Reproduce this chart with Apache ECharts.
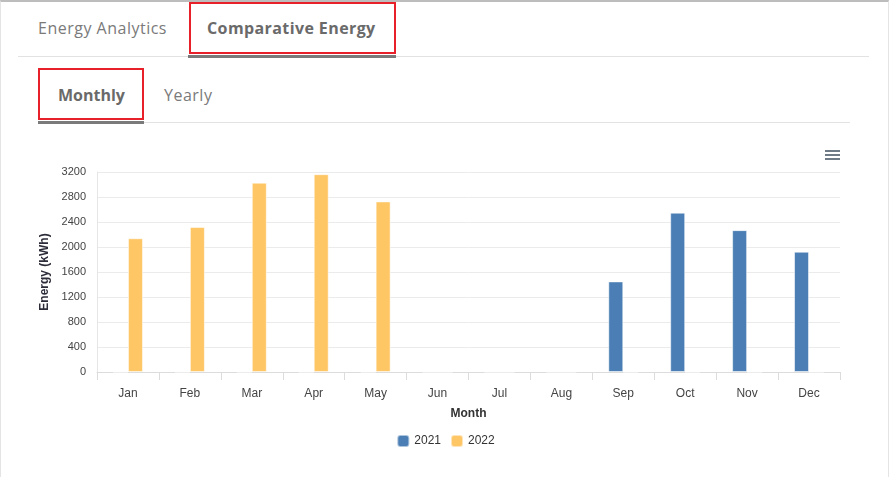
<!DOCTYPE html>
<html>
<head>
<meta charset="utf-8">
<script src="https://cdn.jsdelivr.net/npm/echarts@6/dist/echarts.min.js"></script>
<style>
  html, body { margin: 0; padding: 0; background: #fff; }
  body { width: 891px; height: 477px; position: relative; overflow: hidden; font-family: "Open Sans", "Lato", sans-serif; }
  .card { position: absolute; left: 0; top: 0; width: 889px; height: 477px; border-left: 1px solid #e4e4e4; border-right: 1px solid #e4e4e4; border-top: 2px solid #bdbdbd; box-sizing: border-box; }
  .abs { position: absolute; }
  .tab { position: absolute; font-size: 16px; color: #7a7a7a; white-space: nowrap; }
  .tab.active { font-weight: 700; color: #6a6a6a; }
  .redbox { position: absolute; border: 2px solid #e8202a; box-sizing: border-box; }
  #chart { position: absolute; left: 0; top: 0; width: 891px; height: 477px; }
</style>
</head>
<body>
<div class="card"></div>
<div class="abs" style="left:18px;top:56px;width:851px;height:1px;background:#e2e2e2;"></div>
<div class="abs" style="left:188px;top:55px;width:208px;height:3px;background:#7a7a7a;"></div>
<div class="tab" style="left:38px;top:17px;letter-spacing:0.5px;">Energy Analytics</div>
<div class="tab active" style="left:207px;top:17px;letter-spacing:0.4px;">Comparative Energy</div>
<div class="redbox" style="left:189px;top:2px;width:207px;height:52px;"></div>

<div class="abs" style="left:38px;top:122px;width:812px;height:1px;background:#e2e2e2;"></div>
<div class="abs" style="left:38px;top:121px;width:106px;height:3px;background:#7a7a7a;"></div>
<div class="tab active" style="left:58px;top:84px;">Monthly</div>
<div class="tab" style="left:164px;top:84px;letter-spacing:0.5px;">Yearly</div>
<div class="redbox" style="left:38px;top:68px;width:106px;height:52px;"></div>

<div id="chart"></div>
<script>
const months = ["Jan","Feb","Mar","Apr","May","Jun","Jul","Aug","Sep","Oct","Nov","Dec"];
const seriesNames = ["2021", "2022"];
const values2021 = [0, 0, 0, 0, 0, 0, 0, 0, 1450, 2550, 2270, 1925];
const values2022 = [2140, 2320, 3030, 3165, 2730, 0, 0, 0, 0, 0, 0, 0];
const yTicks = { min: 0, max: 3200, interval: 400 };

const chart = echarts.init(document.getElementById('chart'), null, { renderer: 'canvas' });
const menuColor = '#6f7a87';
chart.setOption({
  animation: false,
  backgroundColor: 'transparent',
  textStyle: { fontFamily: 'Arial, "Liberation Sans", sans-serif' },
  grid: { left: 97, right: 51, top: 172, bottom: 105 },
  graphic: [
    { type: 'rect', right: 51, top: 150, shape: { width: 15, height: 2 }, style: { fill: menuColor } },
    { type: 'rect', right: 51, top: 154, shape: { width: 15, height: 2 }, style: { fill: menuColor } },
    { type: 'rect', right: 51, top: 158, shape: { width: 15, height: 2 }, style: { fill: menuColor } }
  ],
  legend: {
    bottom: 24, left: 'center',
    itemWidth: 12, itemHeight: 12, itemGap: 9,
    icon: 'roundRect',
    textStyle: { fontSize: 12, color: '#333' },
    data: seriesNames
  },
  xAxis: {
    type: 'category',
    data: months,
    name: 'Month',
    nameLocation: 'middle',
    nameGap: 36,
    nameTextStyle: { fontWeight: 'bold', fontSize: 12, color: '#333' },
    axisLine: { lineStyle: { color: '#dcdcdc', width: 1 } },
    axisTick: { show: true, length: 8, lineStyle: { color: '#dcdcdc' } },
    axisLabel: { fontSize: 12, color: '#444', margin: 16 }
  },
  yAxis: {
    type: 'value',
    min: yTicks.min, max: yTicks.max, interval: yTicks.interval,
    name: 'Energy (kWh)',
    nameLocation: 'middle',
    nameGap: 38,
    nameTextStyle: { fontWeight: 'bold', fontSize: 12, color: '#2d2d3a' },
    axisLine: { show: true, lineStyle: { color: '#e6e6e6' } },
    axisTick: { show: false },
    axisLabel: { fontSize: 11, color: '#444', margin: 11, formatter: function (v) { return String(v); } },
    splitLine: { lineStyle: { color: '#ebebeb' } }
  },
  series: [
    {
      name: seriesNames[0], type: 'bar', data: values2021,
      barWidth: 15, barGap: '0%',
      itemStyle: { color: '#4a7eb4', borderColor: 'rgba(255,255,255,0.55)', borderWidth: 1 }
    },
    {
      name: seriesNames[1], type: 'bar', data: values2022,
      barWidth: 15, barGap: '0%',
      itemStyle: { color: '#fec664', borderColor: 'rgba(255,255,255,0.55)', borderWidth: 1 }
    }
  ]
});
</script>
</body>
</html>
